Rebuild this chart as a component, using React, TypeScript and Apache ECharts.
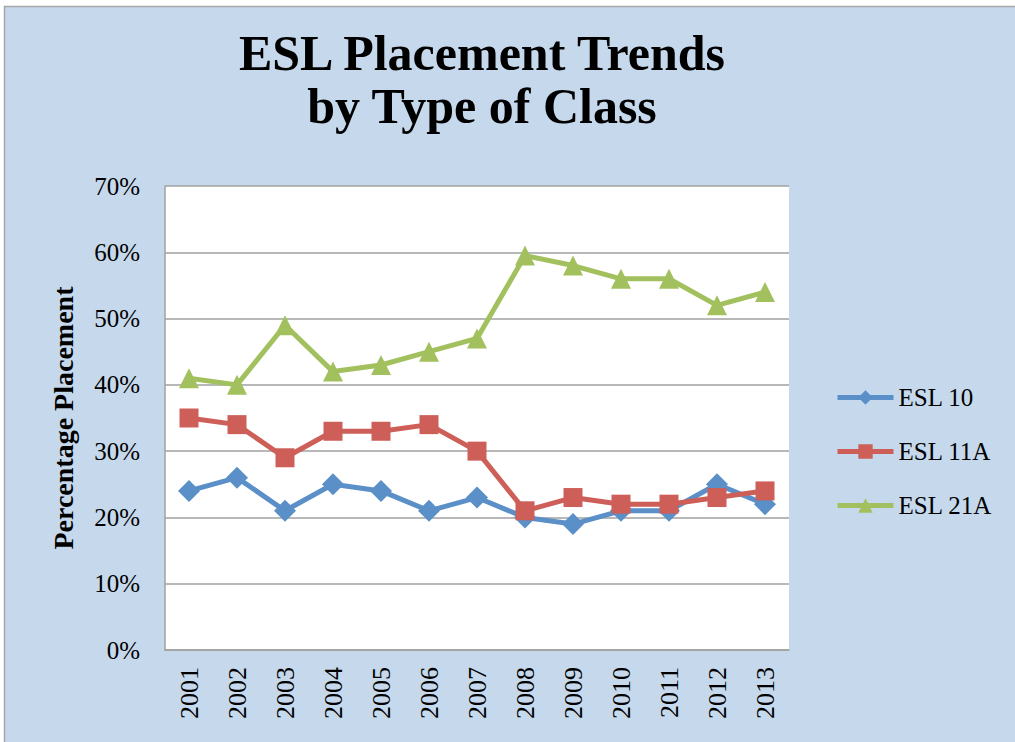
import React, { useEffect, useRef } from "react";
import * as echarts from "echarts";

const years = ["2001", "2002", "2003", "2004", "2005", "2006", "2007", "2008", "2009", "2010", "2011", "2012", "2013"];
const esl10 = [24, 26, 21, 25, 24, 21, 23, 20, 19, 21, 21, 25, 22];
const esl11A = [35, 34, 29, 33, 33, 34, 30, 21, 23, 22, 22, 23, 24];
const esl21A = [41, 40, 49, 42, 43, 45, 47, 59.5, 58, 56, 56, 52, 54];
const yTicks = [0, 10, 20, 30, 40, 50, 60, 70];

const SERIF = "'Liberation Serif', 'DejaVu Serif', serif";

export default function App() {
  const ref = useRef<HTMLDivElement>(null);
  useEffect(() => {
    if (!ref.current) return;
    const chart = echarts.init(ref.current, undefined, { renderer: "svg" });
    const mk = (name: string, data: number[], color: string, symbol: string, size: number) => ({
      name,
      type: "line",
      data,
      symbol,
      symbolSize: size,
      lineStyle: { width: 5, color },
      itemStyle: { color },
      color,
    });
    chart.setOption({
      animation: false,
      backgroundColor: "#ffffff",
      graphic: [
        {
          type: "rect",
          z: -10,
          shape: { x: 4.5, y: 6.5, width: 1030, height: 760 },
          style: { fill: "#c6d9ec", stroke: "#a6a6a6", lineWidth: 1.5 },
        },
        {
          type: "text",
          x: 482,
          y: 26,
          style: {
            text: "ESL Placement Trends\nby Type of Class",
            textAlign: "center",
            textVerticalAlign: "top",
            fontFamily: SERIF,
            fontWeight: "bold",
            fontSize: 50,
            lineHeight: 53,
            fill: "#000000",
          },
        },
      ],
      grid: {
        left: 165,
        top: 186,
        width: 624,
        height: 464,
        show: true,
        backgroundColor: "#ffffff",
        borderWidth: 0,
      },
      legend: {
        orient: "vertical",
        left: 830,
        top: 380,
        itemWidth: 56,
        itemHeight: 18,
        itemGap: 29,
        lineStyle: { width: 5 },
        textStyle: { fontFamily: SERIF, fontSize: 25, color: "#000000" },
        data: ["ESL 10", "ESL 11A", "ESL 21A"],
      },
      xAxis: {
        type: "category",
        data: years,
        boundaryGap: true,
        axisLine: { show: true, lineStyle: { color: "#a0a0a0", width: 1.5 } },
        axisTick: { show: false },
        axisLabel: {
          rotate: 90,
          margin: 17,
          fontFamily: SERIF,
          fontSize: 26,
          color: "#000000",
        },
      },
      yAxis: {
        type: "value",
        min: 0,
        max: 70,
        interval: 10,
        name: "Percentage Placement",
        nameLocation: "middle",
        nameGap: 88,
        nameTextStyle: { fontFamily: SERIF, fontWeight: "bold", fontSize: 28, color: "#000000" },
        axisLine: { show: true, lineStyle: { color: "#a0a0a0", width: 1.5 } },
        axisTick: { show: false },
        splitLine: { show: true, lineStyle: { color: "#a0a0a0", width: 1.5 } },
        axisLabel: {
          margin: 25,
          fontFamily: SERIF,
          fontSize: 25,
          color: "#000000",
          formatter: (v: number) => (yTicks.includes(v) ? v + "%" : ""),
        },
      },
      series: [
        mk("ESL 10", esl10, "#5a8fc8", "diamond", 22),
        mk("ESL 11A", esl11A, "#cd5f58", "rect", 19),
        mk("ESL 21A", esl21A, "#a2c15e", "triangle", 20),
      ],
    });
    return () => chart.dispose();
  }, []);
  return (
    <div
      ref={ref}
      style={{ position: "fixed", left: 0, top: 0, width: 1015, height: 742 }}
    />
  );
}
